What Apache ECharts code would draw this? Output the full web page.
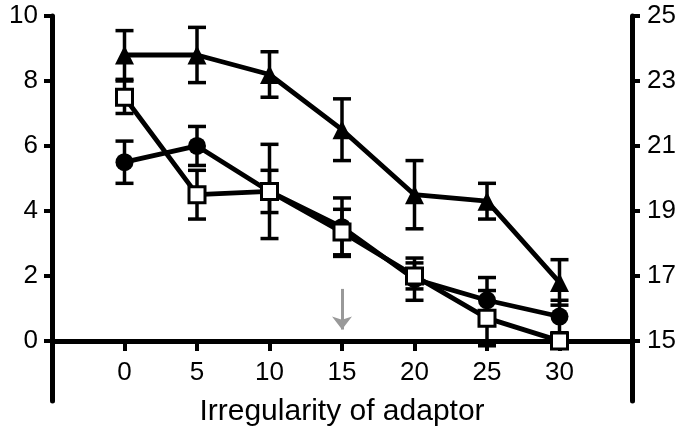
<!DOCTYPE html>
<html>
<head>
<meta charset="utf-8">
<script src="https://cdn.jsdelivr.net/npm/echarts@6/dist/echarts.min.js"></script>
<style>
  html, body { margin: 0; padding: 0; background: #fff; }
  #chart { width: 680px; height: 437px; }
</style>
</head>
<body>
<div id="chart"></div>
<script>
// Irregularity levels on the x axis
const xValues = [0, 5, 10, 15, 20, 25, 30];

// Left-axis ticks and right-axis ticks
const leftTicks = [0, 2, 4, 6, 8, 10];
const rightTicks = [15, 17, 19, 21, 23, 25];

// Series: mean values and error half-widths
const triangleMean = [8.8, 8.8, 8.2, 6.5, 4.5, 4.3, 1.8];
const triangleErr  = [0.75, 0.85, 0.7, 0.95, 1.05, 0.55, 0.7];
const circleMean   = [5.5, 6.0, 4.6, 3.5, 1.9, 1.25, 0.75];
const circleErr    = [0.65, 0.6, 0.65, 0.9, 0.65, 0.7, 0.5];
const squareMean   = [7.5, 4.5, 4.6, 3.35, 2.0, 0.7, 0.0];
const squareErr    = [0.5, 0.75, 1.45, 0.7, 0.4, 0.85, 0.15];

// Arrow marking irregularity 15
const arrowX = 15;
const arrowFrom = 1.6;
const arrowTo = 0.35;

const FONT = '"Liberation Sans", Arial, Helvetica, sans-serif';

// Plot frame and axis ranges
const GRID = { left: 52, right: 48, top: 16, bottom: 36 };
const CHART_H = 437;
const LEFT_MIN = -1.85, LEFT_MAX = 10;
const RIGHT_MIN = 13.15, RIGHT_MAX = 25;
// the x axis runs along the left axis' zero line, lifted off the frame bottom
const gridH = CHART_H - GRID.top - GRID.bottom;
const xAxisLift = (0 - LEFT_MIN) / (LEFT_MAX - LEFT_MIN) * gridH;

function pairs(means) {
  return xValues.map((x, i) => [x, means[i]]);
}
function errRows(means, errs) {
  return xValues.map((x, i) => [x, means[i] - errs[i], means[i] + errs[i]]);
}

function renderErr(params, api) {
  const x = api.value(0);
  const lo = api.coord([x, api.value(1)]);
  const hi = api.coord([x, api.value(2)]);
  const half = 9;
  const style = { stroke: '#000', lineWidth: 3.5 };
  return {
    type: 'group',
    children: [
      { type: 'line', shape: { x1: lo[0], y1: lo[1], x2: hi[0], y2: hi[1] }, style },
      { type: 'line', shape: { x1: hi[0] - half, y1: hi[1], x2: hi[0] + half, y2: hi[1] }, style },
      { type: 'line', shape: { x1: lo[0] - half, y1: lo[1], x2: lo[0] + half, y2: lo[1] }, style }
    ]
  };
}

function errSeries(means, errs, z) {
  return {
    type: 'custom',
    xAxisIndex: 0,
    yAxisIndex: 0,
    renderItem: renderErr,
    data: errRows(means, errs),
    encode: { x: 0, y: [1, 2] },
    z: z,
    silent: true
  };
}

function lineSeries(means, symbol, size, itemStyle, z) {
  return {
    type: 'line',
    xAxisIndex: 0,
    yAxisIndex: 0,
    data: pairs(means),
    symbol: symbol,
    symbolSize: size,
    showSymbol: true,
    lineStyle: { color: '#000', width: 4.8 },
    itemStyle: itemStyle,
    z: z,
    silent: true,
    animation: false
  };
}

const chart = echarts.init(document.getElementById('chart'), null, { renderer: 'canvas' });

chart.setOption({
  animation: false,
  backgroundColor: '#fff',
  grid: Object.assign({ containLabel: false, outerBoundsMode: 'none' }, GRID),
  xAxis: {
    type: 'value',
    position: 'bottom',
    offset: -xAxisLift,
    min: -5,
    max: 35,
    name: 'Irregularity of adaptor',
    nameLocation: 'middle',
    nameGap: 56,
    nameTextStyle: { fontFamily: FONT, fontSize: 30, color: '#000' },
    axisLine: { onZero: false, lineStyle: { color: '#000', width: 5 } },
    axisTick: { show: true, customValues: xValues, length: 10, inside: false, lineStyle: { color: '#000', width: 4 } },
    axisLabel: { customValues: xValues, margin: 19, fontFamily: FONT, fontSize: 26, color: '#000' },
    splitLine: { show: false }
  },
  yAxis: [
    {
      type: 'value',
      position: 'left',
      min: LEFT_MIN,
      max: LEFT_MAX,
      axisLine: { show: true, onZero: false, lineStyle: { color: '#000', width: 5 } },
      axisTick: { show: true, customValues: leftTicks, length: 8, lineStyle: { color: '#000', width: 4 } },
      axisLabel: { customValues: leftTicks, margin: 14, fontFamily: FONT, fontSize: 26, color: '#000' },
      splitLine: { show: false }
    },
    {
      type: 'value',
      position: 'right',
      min: RIGHT_MIN,
      max: RIGHT_MAX,
      axisLine: { show: true, onZero: false, lineStyle: { color: '#000', width: 5 } },
      axisTick: { show: true, customValues: rightTicks, length: 8, lineStyle: { color: '#000', width: 4 } },
      axisLabel: { customValues: rightTicks, margin: 15, fontFamily: FONT, fontSize: 26, color: '#000' },
      splitLine: { show: false }
    }
  ],
  series: [
    errSeries(circleMean, circleErr, 3),
    errSeries(squareMean, squareErr, 3),
    errSeries(triangleMean, triangleErr, 3),
    lineSeries(circleMean, 'circle', 18, { color: '#000' }, 4),
    lineSeries(squareMean, 'rect', 16, { color: '#fff', borderColor: '#000', borderWidth: 3 }, 5),
    lineSeries(triangleMean, 'triangle', 19, { color: '#000' }, 6),
    {
      type: 'line',
      xAxisIndex: 0,
      yAxisIndex: 0,
      data: [],
      silent: true,
      markLine: {
        silent: true,
        animation: false,
        symbol: ['none', 'arrow'],
        symbolSize: [15, 13],
        label: { show: false },
        lineStyle: { color: '#999', width: 3, type: 'solid' },
        data: [[{ coord: [arrowX, arrowFrom] }, { coord: [arrowX, arrowTo] }]]
      }
    }
  ]
});
</script>
</body>
</html>
